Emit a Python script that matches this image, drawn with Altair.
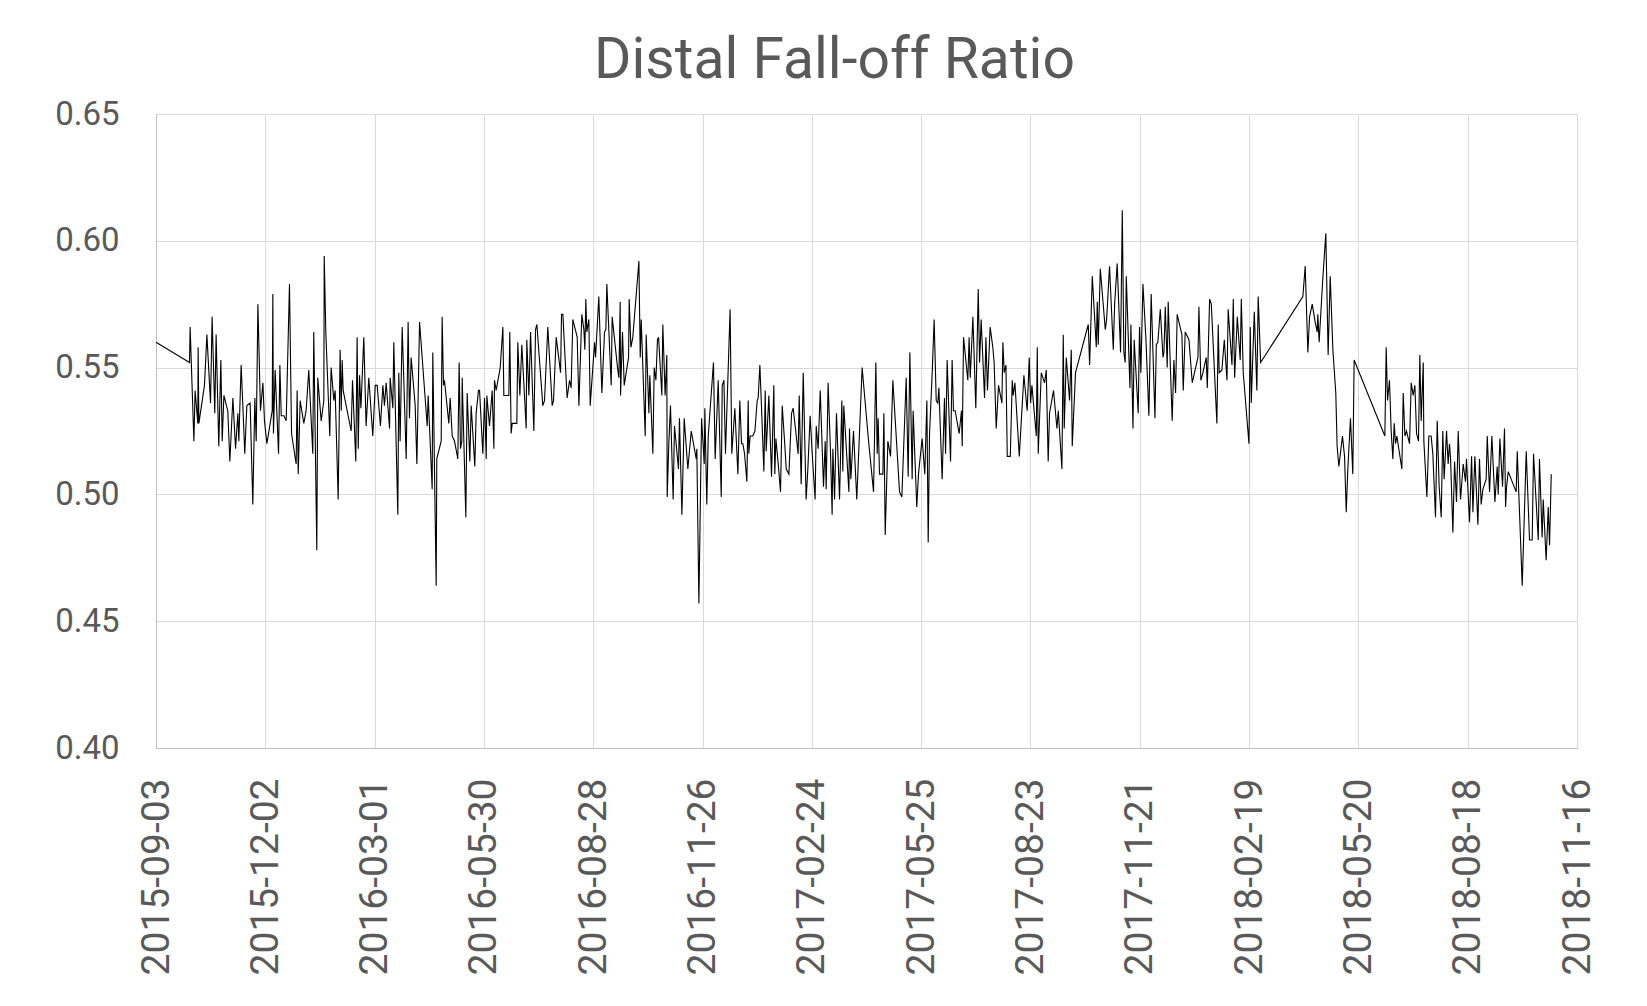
import altair as alt
import pandas as pd

START = "2015-09-03"
TICK_LABELS = ["2015-09-03", "2015-12-02", "2016-03-01", "2016-05-30", "2016-08-28",
               "2016-11-26", "2017-02-24", "2017-05-25", "2017-08-23", "2017-11-21",
               "2018-02-19", "2018-05-20", "2018-08-18", "2018-11-16"]
Y_TICKS = [0.40, 0.45, 0.50, 0.55, 0.60, 0.65]

# (days since 2015-09-03, ratio), in time order
seg_2015 = [(0, .560), (27.6, .552), (28.1, .566), (31.2, .521), (32.2, .541), (34.4, .528), (34.7, .558), (35.3, .528),
            (39.9, .543), (41.9, .563), (44.9, .536), (46.2, .570), (48.4, .532), (49.5, .563), (51.7, .519), (53.4, .553),
            (54.5, .521), (55.9, .539), (59.1, .533), (60.8, .513), (63.3, .538), (65.5, .518), (67.4, .532), (68.2, .521),
            (70.1, .551), (71.5, .535), (73.1, .516), (74.8, .535), (77.5, .536), (79.7, .496), (81.4, .538), (82.5, .521),
            (83.9, .575), (86.0, .533), (88.0, .544), (89.3, .529), (91.3, .520), (95.7, .533), (96.2, .579), (96.7, .524),
            (98.1, .549), (100.9, .516), (102.0, .551), (103.1, .531), (105.3, .531), (107.2, .529), (109.9, .583),
            (111.6, .524), (115.4, .512), (116.2, .541), (117.1, .508), (118.7, .537), (121.7, .528), (123.6, .533)]
seg_2016a = [(125.8, .549), (129.1, .516), (129.9, .564), (132.4, .478), (133.2, .546), (136.0, .529), (138.2, .537),
             (138.5, .594), (139.8, .564), (143.1, .523), (144.2, .550), (146.4, .537), (147.5, .541), (150.0, .498),
             (151.6, .557), (152.5, .533), (153.3, .553), (154.1, .541), (160.7, .525), (161.8, .545), (164.5, .513),
             (165.6, .562), (166.5, .518), (167.6, .547), (168.7, .534), (171.1, .562), (173.0, .527), (175.2, .546),
             (178.5, .523), (180.5, .543), (182.1, .543), (184.8, .527), (186.8, .543), (188.1, .535), (189.5, .544),
             (192.3, .526), (192.8, .546), (195.0, .534), (195.8, .560), (199.1, .492), (199.9, .548), (201.0, .521),
             (202.7, .566), (206.0, .514), (207.6, .568), (208.7, .530), (210.1, .554), (213.4, .535), (214.8, .512),
             (217.0, .568), (223.3, .527), (224.1, .539), (227.4, .502), (227.9, .556), (230.7, .464), (231.2, .514),
             (234.8, .521), (235.6, .570), (236.7, .543), (237.5, .545), (241.1, .528)]
seg_2016b = [(242.2, .538), (243.9, .523), (245.8, .521), (248.5, .514), (249.6, .552), (250.7, .518), (251.8, .521),
             (252.1, .546), (255.1, .491), (256.2, .540), (258.4, .513), (259.5, .535), (262.5, .511), (263.6, .532),
             (265.5, .541), (266.4, .541), (269.1, .516), (270.5, .538), (271.9, .514), (272.4, .539), (274.6, .527),
             (276.8, .541), (278.2, .518), (278.7, .545), (280.1, .541), (283.4, .550), (285.6, .566), (286.4, .539),
             (290.5, .539), (291.3, .564), (292.4, .524), (293.3, .528), (297.1, .528), (297.9, .560), (299.6, .539),
             (301.2, .559), (304.8, .526), (305.3, .561), (307.0, .539), (308.4, .564), (311.1, .525), (312.5, .565),
             (313.6, .567), (318.5, .535), (319.9, .537), (322.6, .566), (326.2, .535), (327.3, .537), (329.5, .562),
             (333.1, .548), (333.9, .571), (335.0, .571), (338.5, .538), (340.5, .545), (341.8, .542), (343.2, .569),
             (346.8, .562), (348.2, .535), (350.6, .571), (352.3, .565), (353.1, .557), (353.9, .577), (354.7, .564),
             (356.4, .569), (357.5, .535), (361.1, .560), (361.9, .554), (364.6, .578), (367.1, .540), (369.3, .564),
             (370.4, .565), (371.2, .583), (374.8, .543), (375.6, .570), (380.0, .550), (381.1, .546), (382.2, .576),
             (382.5, .539), (384.1, .564), (385.5, .543), (389.1, .554), (389.6, .577), (391.0, .558), (392.6, .562),
             (397.6, .592), (398.7, .554), (399.5, .569), (402.8, .523), (403.6, .563), (405.8, .532), (406.6, .547),
             (409.1, .516), (410.2, .550), (411.6, .545), (412.9, .561), (413.8, .562), (416.5, .539), (417.3, .567),
             (419.2, .539), (420.6, .555), (420.9, .499), (422.3, .521), (423.6, .535), (425.8, .498), (426.9, .527),
             (430.2, .510), (431.0, .530), (433.0, .492), (434.9, .530), (437.9, .510), (440.7, .525), (444.8, .514),
             (445.3, .518), (447.0, .457), (449.2, .530), (451.4, .512), (451.9, .534), (453.5, .496), (454.7, .523),
             (459.0, .552), (460.4, .514), (462.9, .545), (465.4, .499), (466.2, .543), (467.6, .545), (468.9, .516)]
seg_2017a = [(472.7, .573), (474.1, .516), (476.6, .534), (479.1, .508), (480.7, .537), (482.1, .520), (483.2, .520),
             (484.6, .516), (486.5, .505), (487.6, .537), (488.1, .516), (489.2, .523), (491.4, .523), (493.1, .525),
             (495.0, .537), (495.8, .538), (497.2, .551), (498.5, .535), (500.5, .509), (501.6, .541), (502.4, .517),
             (504.6, .539), (506.8, .507), (508.7, .543), (509.5, .508), (510.4, .522), (512.5, .511), (514.2, .501),
             (515.6, .535), (517.8, .519), (518.9, .510), (521.1, .508), (523.3, .532), (524.6, .534), (526.5, .526),
             (528.7, .516), (529.6, .539), (531.2, .504), (532.9, .548), (535.3, .498), (536.7, .510), (538.6, .531),
             (540.3, .516), (542.7, .498), (543.6, .527), (545.2, .518), (546.9, .541), (549.6, .503), (551.0, .521),
             (551.8, .502), (553.4, .544), (555.4, .516), (556.7, .492), (557.3, .518), (558.7, .498), (560.3, .532),
             (562.8, .498), (564.7, .537), (565.5, .509), (566.3, .535), (570.5, .501), (571.0, .526), (572.1, .506),
             (574.3, .525), (577.0, .498), (581.4, .550), (586.7, .521), (590.8, .501), (592.7, .552), (593.8, .516),
             (594.6, .530), (595.7, .508), (598.5, .508), (599.3, .532), (600.4, .484), (602.6, .521), (604.8, .515),
             (606.7, .545), (612.2, .501), (614.1, .499), (617.7, .546), (619.3, .507), (620.7, .556), (622.6, .506),
             (623.4, .533), (626.4, .495), (627.8, .508), (630.8, .522), (633.0, .508), (634.7, .537), (635.8, .481),
             (636.9, .524), (639.1, .548), (640.7, .569), (642.4, .537), (643.7, .536), (644.6, .542), (647.3, .506),
             (649.2, .538), (650.1, .516), (651.4, .553), (654.2, .513), (655.5, .553), (656.6, .533), (658.0, .533),
             (661.3, .524), (663.2, .533), (663.8, .519), (664.9, .562), (668.4, .545), (669.5, .562), (670.4, .546),
             (672.6, .570), (675.0, .534), (677.0, .581), (678.1, .552), (679.4, .569), (682.2, .538), (683.3, .562),
             (684.6, .541), (686.8, .566), (689.0, .558), (690.1, .552), (691.8, .526), (693.7, .543)]
seg_2017b = [(696.5, .536), (697.3, .560), (698.4, .548), (699.8, .551), (700.9, .515), (703.4, .515), (705.0, .545),
             (705.8, .539), (707.2, .544), (710.8, .515), (714.6, .547), (717.3, .533), (719.0, .554), (720.1, .536),
             (721.2, .543), (724.8, .523), (725.6, .558), (726.4, .516), (728.9, .548), (731.6, .544), (733.0, .549),
             (734.6, .513), (735.7, .532), (739.0, .541), (741.8, .526), (742.9, .533), (745.9, .510), (747.0, .563),
             (747.8, .526), (749.5, .554), (752.2, .537), (753.6, .557), (754.4, .519), (757.1, .548), (767.6, .567),
             (768.7, .551), (770.9, .586), (774.2, .558), (775.0, .576), (775.8, .559), (777.5, .589), (781.6, .565),
             (782.7, .569), (785.1, .590), (788.2, .557), (789.3, .575), (791.4, .591), (794.2, .556), (795.6, .612),
             (796.9, .556), (798.0, .552), (798.9, .586), (801.9, .542), (802.7, .567), (804.4, .526), (805.4, .561),
             (808.7, .532), (809.8, .566), (810.9, .548), (812.6, .583), (815.1, .561), (817.5, .531), (819.4, .579),
             (822.5, .530), (823.6, .559), (824.9, .560), (826.9, .573), (829.1, .554), (829.9, .556), (831.0, .574),
             (832.6, .550), (833.4, .576), (836.7, .529), (838.1, .553), (839.5, .540), (840.8, .571), (844.7, .563),
             (845.8, .541), (847.4, .564), (850.5, .561), (853.2, .544), (854.6, .547), (857.9, .554), (858.7, .574),
             (860.3, .545), (862.0, .548), (864.7, .554), (865.6, .542), (867.5, .577), (868.9, .575), (873.5, .528),
             (874.6, .567), (875.4, .548), (877.6, .549), (879.6, .561), (881.8, .545), (882.8, .573), (885.9, .551),
             (887.0, .577), (888.1, .546), (890.3, .570), (892.7, .553), (893.6, .577), (895.2, .548), (899.9, .520),
             (901.0, .566), (901.8, .536), (904.3, .572), (906.4, .541), (907.5, .578), (909.5, .552)]
seg_2018 = [(944.3, .578), (946.2, .590), (948.4, .556), (949.8, .570), (952.0, .575), (954.4, .568), (956.1, .564),
            (956.6, .571), (957.7, .560), (960.7, .585), (963.2, .603), (965.1, .555), (966.8, .586), (969.0, .557),
            (971.4, .540), (972.5, .519), (973.9, .511), (976.9, .523), (978.6, .515), (980.0, .493), (981.3, .510),
            (983.5, .530), (985.4, .508), (986.5, .553), (1011.8, .523), (1012.9, .558), (1014.0, .537), (1015.6, .545),
            (1017.0, .525), (1018.4, .514), (1019.5, .528), (1020.6, .520), (1021.7, .523), (1025.8, .510), (1026.9, .540),
            (1028.3, .523), (1029.6, .525), (1032.1, .520), (1033.5, .544), (1035.1, .539), (1036.5, .543), (1037.9, .524),
            (1039.5, .521), (1040.6, .555), (1041.7, .529), (1043.4, .552), (1043.9, .521), (1046.4, .499), (1048.0, .523),
            (1049.9, .523), (1051.3, .516), (1053.5, .491), (1054.9, .529), (1056.5, .503), (1058.2, .491), (1059.5, .525),
            (1060.6, .506), (1062.6, .525), (1063.9, .512), (1065.0, .520), (1065.9, .514), (1067.8, .485), (1069.2, .513),
            (1070.8, .497), (1072.2, .525), (1074.1, .498), (1076.3, .512), (1078.2, .505), (1079.0, .514), (1081.5, .489),
            (1083.2, .515), (1084.3, .493), (1085.9, .515), (1088.4, .488), (1089.7, .514), (1091.1, .496), (1092.5, .502),
            (1095.2, .506), (1096.1, .523), (1098.0, .501), (1099.9, .523), (1102.4, .497), (1104.3, .511), (1105.1, .500),
            (1106.5, .522), (1108.7, .503), (1110.3, .526), (1111.2, .495), (1112.0, .503), (1113.4, .509), (1119.9, .501),
            (1120.8, .517), (1124.9, .464), (1128.2, .517), (1130.9, .482), (1133.1, .482), (1134.2, .516), (1138.1, .482),
            (1139.1, .514), (1141.3, .483), (1142.2, .498), (1144.6, .474), (1146.3, .495), (1147.4, .480), (1148.8, .508)]

DAY_MS = 86400000
start_ms = int(pd.Timestamp(START, tz="UTC").value // 10**6)
tick_ms = [int(pd.Timestamp(s, tz="UTC").value // 10**6) for s in TICK_LABELS]

rows = []
for seg in [seg_2015, seg_2016a, seg_2016b, seg_2017a, seg_2017b, seg_2018]:
    for d, v in seg:
        rows.append({"t": start_ms + int(round(d * DAY_MS)), "ratio": v})
df = pd.DataFrame(rows)

GRID = "#d9d9d9"
TXT = "#595959"

chart = alt.Chart(df).mark_line(color="#000000", strokeWidth=1.1).encode(
    x=alt.X("t:T",
            scale=alt.Scale(type="utc", domain=[tick_ms[0], tick_ms[-1]], nice=False),
            axis=alt.Axis(title=None, values=tick_ms,
                          labelExpr="utcFormat(datum.value, '%Y-%m-%d')",
                          labelAngle=270, labelFont="Roboto", labelFontSize=39, labelColor=TXT,
                          labelPadding=30, labelLimit=500, ticks=False, tickSize=0, grid=True, gridColor=GRID,
                          domainColor="#bfbfbf", labelOverlap=False, labelBound=False, labelFlush=False)),
    y=alt.Y("ratio:Q",
            scale=alt.Scale(domain=[0.40, 0.65], nice=False, zero=False),
            axis=alt.Axis(title=None, values=Y_TICKS, format=".2f",
                          labelFont="Roboto", labelFontSize=33, labelColor=TXT,
                          labelPadding=37, ticks=False, tickSize=0, grid=True, gridColor=GRID,
                          domainColor="#bfbfbf", labelOverlap=False)),
).properties(
    width=1421, height=634,
    title=alt.TitleParams("Distal Fall-off Ratio", font="Roboto", fontSize=57, fontWeight="normal",
                          color=TXT, anchor="middle", dx=-32, offset=8),
    autosize=alt.AutoSizeParams(type="none"),
    padding={"left": 156, "top": 114, "right": 70, "bottom": 258},
).configure_view(stroke=None).configure(background="white")

chart.save("out.html", embed_options={"renderer": "svg", "actions": False})
